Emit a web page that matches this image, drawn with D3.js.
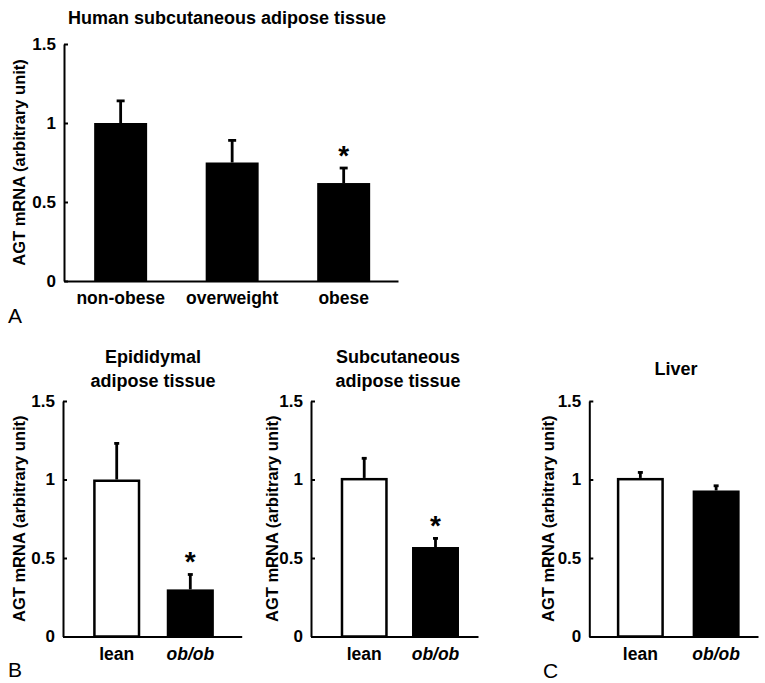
<!DOCTYPE html>
<html>
<head>
<meta charset="utf-8">
<script src="https://cdn.jsdelivr.net/npm/d3@7/dist/d3.min.js"></script>
<style>
  html, body { margin: 0; padding: 0; background: #fff; }
  svg { display: block; font-family: "Liberation Sans", Arial, Helvetica, sans-serif; }
</style>
</head>
<body>
<svg id="chart" width="765" height="683"></svg>
<script>
// ---------- data ----------
const yTicks = [0, 0.5, 1, 1.5];
const yLabel = "AGT mRNA (arbitrary unit)";

const catsHuman = ["non-obese", "overweight", "obese"];
const meanHuman = [1.0, 0.75, 0.62];
const errHuman  = [0.14, 0.14, 0.095];
const sigHuman  = [false, false, true];

const catsMouse = ["lean", "ob/ob"];

const meanEpi = [1.0, 0.30];
const errEpi  = [0.23, 0.095];
const sigEpi  = [false, true];

const meanSub = [1.01, 0.57];
const errSub  = [0.125, 0.055];
const sigSub  = [false, true];

const meanLiver = [1.01, 0.93];
const errLiver  = [0.035, 0.03];
const sigLiver  = [false, false];

const titleHuman = ["Human subcutaneous adipose tissue"];
const titleEpi   = ["Epididymal", "adipose tissue"];
const titleSub   = ["Subcutaneous", "adipose tissue"];
const titleLiver = ["Liver"];

// ---------- layout ----------
const panels = [
  { cats: catsHuman, mean: meanHuman, err: errHuman, sig: sigHuman, title: titleHuman,
    hollow: [false, false, false], letter: "A", letterX: 8, letterY: 323,
    x0: 64, x1: 398, yTop: 44, yBot: 281, pi: 0.525, po: 0.26, align: 0.52,
    titleX: 227, titleY: [24], labelX: 24.5, cap: 8, titleSize: 18 },
  { cats: catsMouse, mean: meanEpi, err: errEpi, sig: sigEpi, title: titleEpi,
    hollow: [true, false], letter: "B", letterX: 8, letterY: 677,
    x0: 63, x1: 241.7, yTop: 401, yBot: 636.5, pi: 0.36, po: 0.394, align: 0.52,
    titleX: 153, titleY: [363, 387], labelX: 25, cap: 5, titleSize: 18 },
  { cats: catsMouse, mean: meanSub, err: errSub, sig: sigSub, title: titleSub,
    hollow: [true, false], letter: null,
    x0: 311, x1: 478, yTop: 401, yBot: 636.5, pi: 0.341, po: 0.342, align: 0.61,
    titleX: 398, titleY: [363, 387], labelX: 277.5, cap: 5, titleSize: 18 },
  { cats: catsMouse, mean: meanLiver, err: errLiver, sig: sigLiver, title: titleLiver,
    hollow: [true, false], letter: "C", letterX: 543, letterY: 678,
    x0: 589.3, x1: 758, yTop: 401, yBot: 636.5, pi: 0.38, po: 0.303, align: 0.6,
    titleX: 676, titleY: [375], labelX: 553.5, cap: 5, titleSize: 18 }
];

const svg = d3.select("#chart");

panels.forEach(p => {
  const g = svg.append("g");
  const x = d3.scaleBand().domain(p.cats).range([p.x0, p.x1])
    .paddingInner(p.pi).paddingOuter(p.po).align(p.align);
  const y = d3.scaleLinear().domain([0, 1.5]).range([p.yBot, p.yTop]);

  const rows = p.cats.map((c, i) => ({ c, m: p.mean[i], e: p.err[i], s: p.sig[i], h: p.hollow[i] }));

  // error bars (behind bars)
  const eb = g.append("g").attr("stroke", "#000").attr("stroke-width", 2.8);
  rows.forEach(d => {
    const cx = x(d.c) + x.bandwidth() / 2;
    eb.append("line").attr("x1", cx).attr("x2", cx).attr("y1", y(d.m)).attr("y2", y(d.m + d.e));
    eb.append("line").attr("x1", cx - p.cap / 2).attr("x2", cx + p.cap / 2)
      .attr("y1", y(d.m + d.e)).attr("y2", y(d.m + d.e));
  });

  // bars
  g.selectAll("rect.bar").data(rows).join("rect")
    .attr("class", "bar")
    .attr("x", d => x(d.c) + (d.h ? 1.25 : 0))
    .attr("width", d => x.bandwidth() - (d.h ? 2.5 : 0))
    .attr("y", d => y(d.m) + (d.h ? 1.25 : 0))
    .attr("height", d => y(0) - y(d.m) - (d.h ? 1.25 : 0))
    .attr("fill", d => d.h ? "#fff" : "#000")
    .attr("stroke", "#000")
    .attr("stroke-width", d => d.h ? 2.5 : 0);

  // significance stars
  rows.filter(d => d.s).forEach(d => {
    g.append("text")
      .attr("x", x(d.c) + x.bandwidth() / 2)
      .attr("y", y(d.m + d.e) - 3)
      .attr("text-anchor", "middle")
      .attr("font-size", 28).attr("font-weight", "bold")
      .text("*");
  });

  // y axis
  const ya = g.append("g").attr("transform", `translate(${p.x0},0)`)
    .call(d3.axisLeft(y).tickValues(yTicks).tickFormat(d => String(d))
      .tickSizeInner(-4).tickSizeOuter(0).tickPadding(8));
  ya.select(".domain").attr("stroke-width", 2);
  ya.selectAll(".tick line").attr("stroke-width", 2);
  ya.selectAll("text").attr("font-size", 17).attr("font-weight", "bold")
    .attr("font-family", "'Liberation Sans', Arial, sans-serif").attr("fill", "#000");

  // x axis
  const xa = g.append("g").attr("transform", `translate(0,${p.yBot})`)
    .call(d3.axisBottom(x).tickSize(0).tickPadding(11));
  xa.select(".domain").attr("stroke-width", 2);
  xa.selectAll("text").attr("font-size", 17.5).attr("font-weight", "bold")
    .attr("font-family", "'Liberation Sans', Arial, sans-serif").attr("fill", "#000")
    .attr("font-style", d => d === "ob/ob" ? "italic" : "normal");

  // y label
  g.append("text")
    .attr("transform", `translate(${p.labelX},${(p.yTop + p.yBot) / 2}) rotate(-90)`)
    .attr("text-anchor", "middle")
    .attr("font-size", 16.5).attr("font-weight", "bold")
    .text(yLabel);

  // title
  p.title.forEach((t, i) => {
    g.append("text")
      .attr("x", p.titleX).attr("y", p.titleY[i])
      .attr("text-anchor", "middle")
      .attr("font-size", p.titleSize).attr("font-weight", "bold")
      .text(t);
  });

  // panel letter
  if (p.letter) {
    g.append("text").attr("x", p.letterX).attr("y", p.letterY)
      .attr("font-size", 21).text(p.letter);
  }
});
</script>
</body>
</html>
